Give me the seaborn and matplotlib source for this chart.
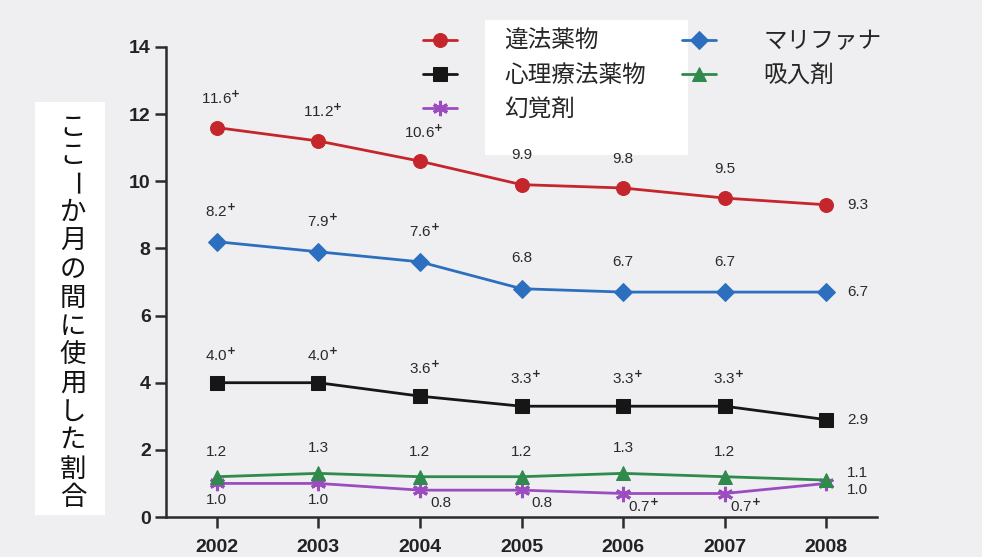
import matplotlib
matplotlib.use("Agg")
import matplotlib.pyplot as plt
import pandas as pd
import seaborn as sns
from matplotlib.patches import Rectangle

# ---- data -------------------------------------------------------------
years = [2002, 2003, 2004, 2005, 2006, 2007, 2008]

illicit = [11.6, 11.2, 10.6, 9.9, 9.8, 9.5, 9.3]
psychotherapeutic = [4.0, 4.0, 3.6, 3.3, 3.3, 3.3, 2.9]
hallucinogens = [1.0, 1.0, 0.8, 0.8, 0.7, 0.7, 1.0]
marijuana = [8.2, 7.9, 7.6, 6.8, 6.7, 6.7, 6.7]
inhalants = [1.2, 1.3, 1.2, 1.2, 1.3, 1.2, 1.1]

# 1 = value differs significantly from 2008 (marked with "+")
illicit_sig = [1, 1, 1, 0, 0, 0, 0]
psychotherapeutic_sig = [1, 1, 1, 1, 1, 1, 0]
hallucinogens_sig = [0, 0, 0, 0, 1, 1, 0]
marijuana_sig = [1, 1, 1, 0, 0, 0, 0]
inhalants_sig = [0, 0, 0, 0, 0, 0, 0]

series_names = ["違法薬物", "心理療法薬物", "幻覚剤", "マリファナ", "吸入剤"]
y_ticks = [0, 2, 4, 6, 8, 10, 12, 14]
y_label = "ここーか月の間に使用した割合"

# ---- styles -----------------------------------------------------------
series = [
    (series_names[0], illicit, illicit_sig,
     dict(color="#c4262b", marker="o", markersize=10)),
    (series_names[1], psychotherapeutic, psychotherapeutic_sig,
     dict(color="#161616", marker="s", markersize=10)),
    (series_names[2], hallucinogens, hallucinogens_sig,
     dict(color="#9b4dc0", marker=(6, 2, 0), markersize=11, markeredgewidth=2.2)),
    (series_names[3], marijuana, marijuana_sig,
     dict(color="#2d6fbf", marker="D", markersize=9)),
    (series_names[4], inhalants, inhalants_sig,
     dict(color="#2f8a4c", marker="^", markersize=10)),
]

sns.set_theme(style="ticks")
plt.rcParams["font.family"] = ["Liberation Sans", "Noto Sans CJK JP", "DejaVu Sans"]
plt.rcParams["mathtext.fontset"] = "dejavusans"

W, H = 982, 557
fig = plt.figure(figsize=(W / 100, H / 100), dpi=100, facecolor="#efeff1")

# white panels behind the axis title and the first legend column
for (x0, y0_, w, h) in [(35, 515, 70, 413), (485, 155, 203, 135)]:
    fig.patches.append(Rectangle((x0 / W, 1 - y0_ / H), w / W, h / H,
                                 transform=fig.transFigure, facecolor="white",
                                 edgecolor="none", zorder=-5))

ax = fig.add_axes([166 / W, 1 - 517 / H, (877 - 166) / W, (517 - 47) / H])
ax.set_facecolor("none")
ax.set_zorder(1)

for name, vals, sig, style in series:
    df = pd.DataFrame({"year": years, "value": vals})
    sns.lineplot(data=df, x="year", y="value", ax=ax, label=name,
                 linewidth=2.0, markeredgecolor=style["color"], clip_on=False,
                 zorder=3, **style)

# ---- value labels -----------------------------------------------------
label_kw = dict(textcoords="offset points", fontsize=11, color="#2a2a2a",
                va="center", annotation_clip=False)
above = {series_names[0]: 21, series_names[1]: 20, series_names[3]: 22,
         series_names[4]: 18}
last_dy = {series_names[0]: 0, series_names[1]: 0, series_names[2]: -5,
           series_names[3]: 0, series_names[4]: 5}

for name, vals, sig, style in series:
    for i, (yr, v) in enumerate(zip(years, vals)):
        txt = f"{v:.1f}" + (r"$^{\mathbf{+}}$" if sig[i] else "")
        if i == len(years) - 1:
            ax.annotate(txt, (yr, v), xytext=(15, last_dy[name]), ha="left",
                        **label_kw)
        elif name == series_names[2]:
            dx = 0 if i < 2 else 15
            dy = -12 if i < 2 else -9
            ax.annotate(txt, (yr, v), xytext=(dx, dy), ha="center", **label_kw)
        else:
            ax.annotate(txt, (yr, v), xytext=(3 if sig[i] else 0, above[name]),
                        ha="center", **label_kw)

# ---- axes -------------------------------------------------------------
ax.set_xlim(2001.5, 2008.5)
ax.set_ylim(0, 14)
ax.set_xticks(years)
ax.set_yticks(y_ticks)
ax.set_xlabel("")
ax.set_ylabel("")
sns.despine(ax=ax)
for side in ("left", "bottom"):
    ax.spines[side].set_color("#2b2b2b")
    ax.spines[side].set_linewidth(1.8)
ax.tick_params(axis="both", direction="out", length=8, width=1.8,
               color="#2b2b2b", labelcolor="#222222", labelsize=14)
ax.tick_params(axis="y", pad=3)
ax.tick_params(axis="x", pad=8)
for lab in ax.get_xticklabels() + ax.get_yticklabels():
    lab.set_fontweight("bold")

# ---- legend -----------------------------------------------------------
handles, labels = ax.get_legend_handles_labels()
ax.legend(handles, labels, ncol=2, frameon=False, fontsize=17,
          loc="upper left", bbox_to_anchor=(423 / W, 1 - 31 / H),
          bbox_transform=fig.transFigure, borderpad=0, borderaxespad=0,
          handlelength=1.45, handletextpad=2.0, columnspacing=1.5,
          labelspacing=0.5)

# ---- vertical axis title, one character per line -------------------------
y0, step = 127, 28.5
for k, ch in enumerate(y_label):
    fig.text(73 / W, 1 - (y0 + k * step) / H, ch, fontsize=19,
             family=["Noto Sans CJK JP", "DejaVu Sans"], ha="center",
             va="center", rotation=-90 if ch == "ー" else 0, color="#111111")

fig.savefig("out.png", dpi=100, facecolor=fig.get_facecolor())
